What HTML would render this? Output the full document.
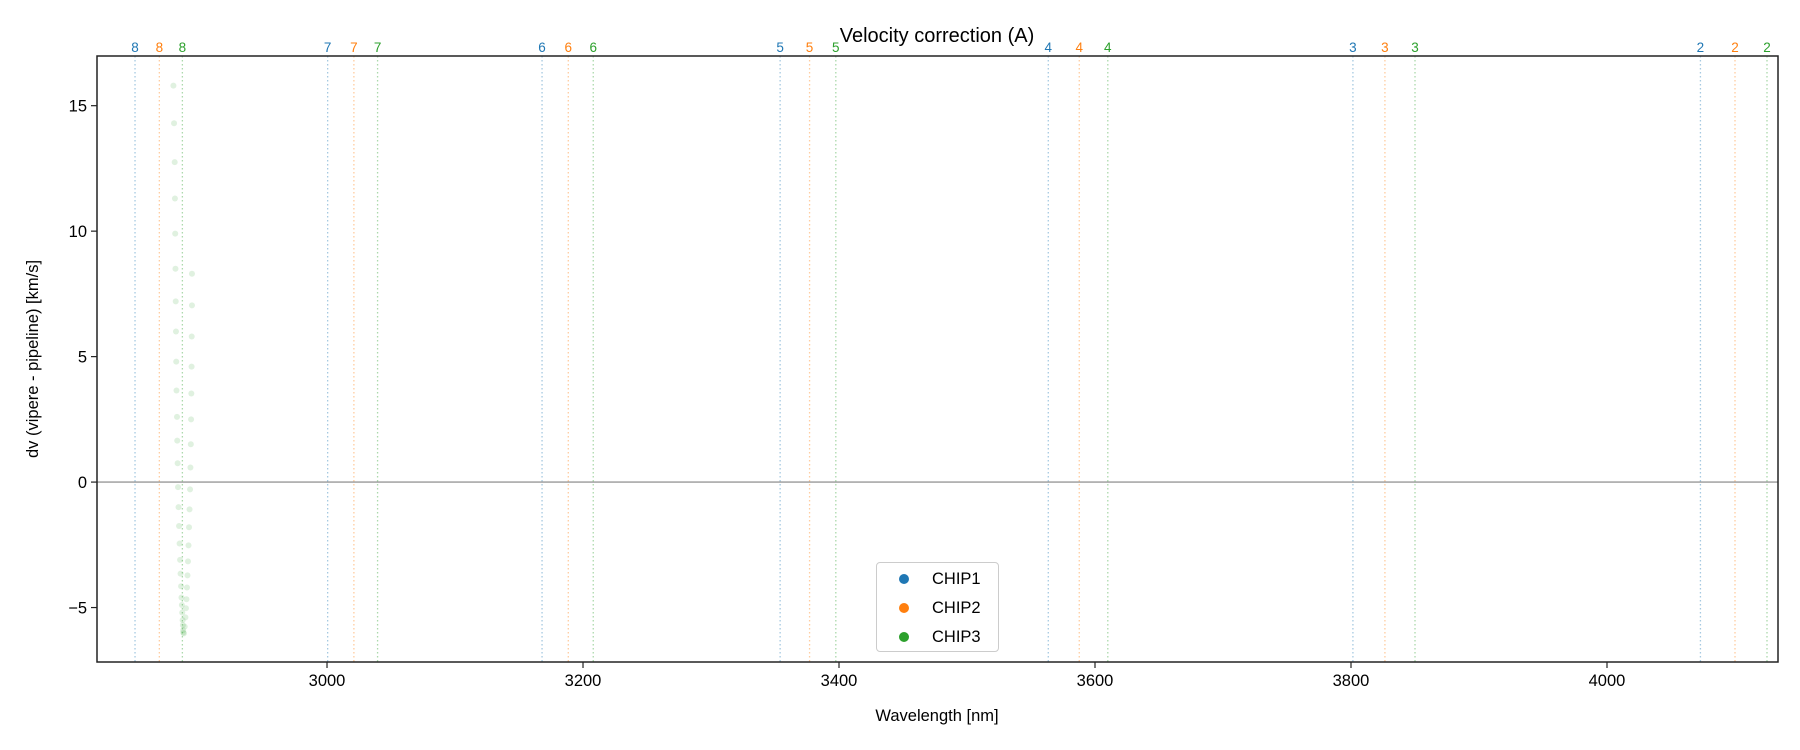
<!DOCTYPE html>
<html><head><meta charset="utf-8"><style>
body{margin:0;background:#fff}
svg{font-family:"Liberation Sans","DejaVu Sans",sans-serif;display:block}
</style></head><body>
<svg id="chart" width="1800" height="750" xmlns="http://www.w3.org/2000/svg">
<rect width="1800" height="750" fill="#fff"/>
<g id="plot"></g>
<text x="937" y="42" text-anchor="middle" font-size="20">Velocity correction (A)</text>
<text x="937" y="721" text-anchor="middle" font-size="16.5">Wavelength [nm]</text>
<text transform="translate(38,359) rotate(-90)" text-anchor="middle" font-size="16.5">dv (vipere - pipeline) [km/s]</text>
</svg>
<script>
const xTicks=[3000,3200,3400,3600,3800,4000];
const yTicks=[-5,0,5,10,15];
const orderLabels=['8','7','6','5','4','3','2'];
const chip1Lines=[2850,3000.5,3168,3354,3563.5,3801.5,4073];
const chip2Lines=[2869,3021,3188.5,3377,3587.7,3826.5,4100];
const chip3Lines=[2887,3039.5,3208,3397.5,3610,3850,4125];
const chip3X=[2880,2880.5,2881,2881.2,2881.4,2881.6,2881.8,2882,2882.2,2882.4,2882.8,2883,2883.3,2883.6,2884,2884.4,2884.8,2885.2,2885.6,2886,2886.3,2886.6,2886.9,2887.2,2887.4,2887.6,2887.7,
2894.5,2894.5,2894.3,2894.2,2894,2893.8,2893.6,2893.3,2893,2892.6,2892.2,2891.8,2891.4,2891,2890.6,2890.2,2889.8,2889.4,2888.8,2888.2];
const chip3Y=[15.8,14.3,12.75,11.3,9.9,8.5,7.2,6.0,4.8,3.65,2.6,1.65,0.75,-0.2,-1.0,-1.75,-2.45,-3.1,-3.65,-4.15,-4.6,-4.9,-5.2,-5.5,-5.7,-5.9,-6.0,
8.3,7.04,5.8,4.6,3.53,2.5,1.51,0.58,-0.29,-1.09,-1.8,-2.52,-3.16,-3.72,-4.2,-4.67,-5.03,-5.39,-5.76,-6.03];
const L=97,R=1778,T=56,B=662;
const xMin=2820.3,xMax=4133.6,yMin=-7.17,yMax=16.98;
const sx=v=>L+(v-xMin)/(xMax-xMin)*(R-L);
const sy=v=>B-(v-yMin)/(yMax-yMin)*(B-T);
const NS='http://www.w3.org/2000/svg';
const g=document.getElementById('plot');
function mk(tag,attrs,parent){const e=document.createElementNS(NS,tag);for(const k in attrs)e.setAttribute(k,attrs[k]);(parent||g).appendChild(e);return e;}
const colors=['#1f77b4','#ff7f0e','#2ca02c'];
[chip1Lines,chip2Lines,chip3Lines].forEach((arr,ci)=>{arr.forEach((v,i)=>{
 const x=sx(v);
 const ln=mk('line',{x1:x,x2:x,y1:T,y2:B,stroke:colors[ci],'stroke-opacity':0.4,'stroke-width':1.3,'stroke-dasharray':'1.5,2.5'});
 
 
 const t=mk('text',{x:x,y:52,'text-anchor':'middle','font-size':13.5,fill:colors[ci]});
 t.textContent=orderLabels[i];
 
 
});});
const zl=mk('line',{x1:L,x2:R,y1:sy(0),y2:sy(0),stroke:'#999','stroke-width':1.3});


chip3X.forEach((v,i)=>{
 const c=mk('circle',{cx:sx(v),cy:sy(chip3Y[i]),r:3,fill:'#2ca02c','fill-opacity':0.15});
 
 
});
const fr=mk('rect',{x:L,y:T,width:R-L,height:B-T,fill:'none',stroke:'#222','stroke-width':1.5});


xTicks.forEach(v=>{const x=sx(v);
 mk('line',{x1:x,x2:x,y1:B,y2:B+6,stroke:'#222','stroke-width':1.2});
 const t=mk('text',{x:x,y:B+24,'text-anchor':'middle','font-size':16.5,fill:'#000'});t.textContent=v;
 
 
});
yTicks.forEach(v=>{const y=sy(v);
 mk('line',{x1:L-6,x2:L,y1:y,y2:y,stroke:'#222','stroke-width':1.2});
 const t=mk('text',{x:L-10,y:y+6,'text-anchor':'end','font-size':16.5,fill:'#000'});t.textContent=v<0?'\u2212'+(-v):v;
 
 
});
</script>
<div style="position:absolute;left:876px;top:562px;width:121px;height:88px;border:1.5px solid #ccc;border-radius:4px;background:#fff;font-family:'Liberation Sans',sans-serif;font-size:16.5px">
<div style="position:absolute;left:22px;top:7px;white-space:nowrap"><span style="display:inline-block;width:10px;height:10px;border-radius:50%;background:#1f77b4;margin-right:23px"></span>CHIP1</div>
<div style="position:absolute;left:22px;top:36px;white-space:nowrap"><span style="display:inline-block;width:10px;height:10px;border-radius:50%;background:#ff7f0e;margin-right:23px"></span>CHIP2</div>
<div style="position:absolute;left:22px;top:65px;white-space:nowrap"><span style="display:inline-block;width:10px;height:10px;border-radius:50%;background:#2ca02c;margin-right:23px"></span>CHIP3</div>
</div>
</body></html>
